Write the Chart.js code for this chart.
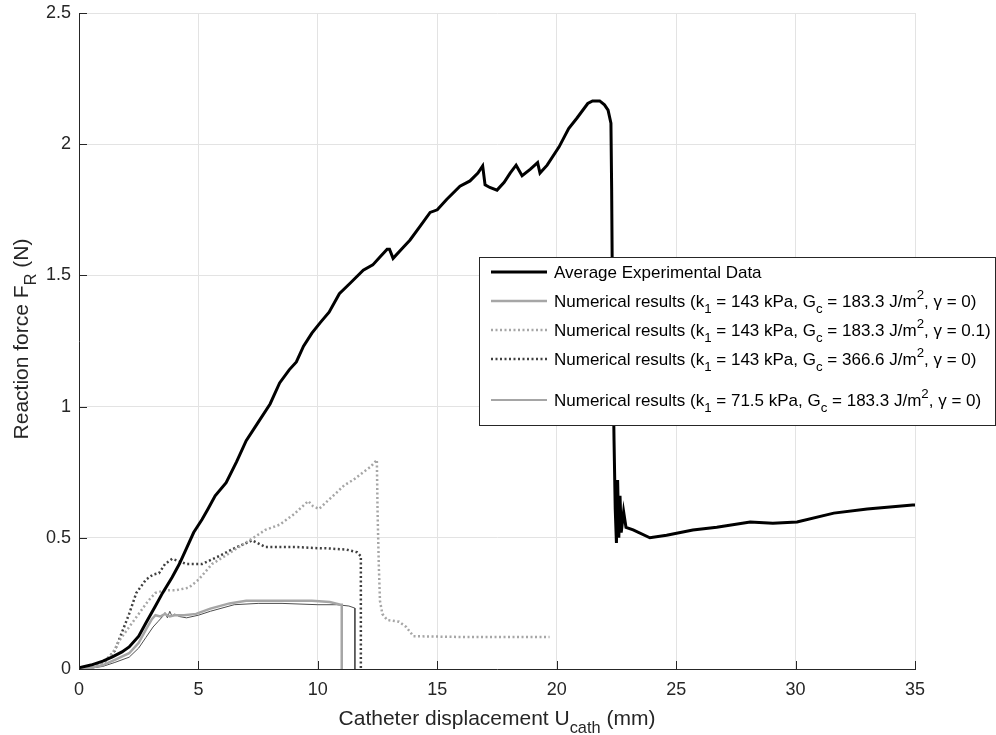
<!DOCTYPE html>
<html>
<head>
<meta charset="utf-8">
<script src="https://cdn.jsdelivr.net/npm/chart.js@4.4.0/dist/chart.umd.min.js"></script>
<style>
  body { margin: 0; background: #fff; }
  canvas { display: block; }
</style>
</head>
<body>
<canvas id="myChart" width="996" height="735"></canvas>
<script>
// Valores
const expX = [0, 0.5, 1.0, 1.4, 1.8, 2.1, 2.5, 2.8, 3.2, 3.5, 3.9, 4.2, 4.5, 4.8, 5.15, 5.4, 5.7, 6.16, 6.6, 7.0, 7.5, 8.0, 8.4, 8.8, 9.1, 9.4, 9.75, 10.1, 10.47, 10.9, 11.35, 11.9, 12.3, 12.6, 12.9, 13.0, 13.15, 13.5, 13.86, 14.3, 14.7, 15.0, 15.4, 15.95, 16.37, 16.7, 16.9, 17.0, 17.2, 17.5, 17.8, 18.05, 18.3, 18.55, 18.9, 19.2, 19.3, 19.6, 20.1, 20.5, 20.85, 21.3, 21.5, 21.8, 22.0, 22.15, 22.27, 22.3, 22.35, 22.4, 22.45, 22.5, 22.55, 22.6, 22.65, 22.7, 22.8, 22.9, 23.2, 23.9, 24.6, 25.7, 26.7, 28.1, 29.05, 30.06, 31.6, 33.0, 34.9, 35];
const expY = [0.005, 0.015, 0.03, 0.046, 0.065, 0.084, 0.125, 0.175, 0.24, 0.29, 0.35, 0.40, 0.46, 0.52, 0.57, 0.61, 0.66, 0.71, 0.79, 0.87, 0.94, 1.01, 1.09, 1.14, 1.17, 1.23, 1.28, 1.32, 1.36, 1.43, 1.47, 1.52, 1.54, 1.57, 1.60, 1.60, 1.565, 1.60, 1.635, 1.69, 1.74, 1.75, 1.79, 1.84, 1.86, 1.89, 1.917, 1.845, 1.835, 1.825, 1.855, 1.89, 1.92, 1.88, 1.905, 1.93, 1.89, 1.92, 1.99, 2.06, 2.10, 2.155, 2.165, 2.165, 2.15, 2.13, 2.08, 1.83, 1.2, 0.87, 0.61, 0.48, 0.72, 0.50, 0.66, 0.52, 0.60, 0.54, 0.53, 0.50, 0.51, 0.53, 0.54, 0.56, 0.555, 0.56, 0.594, 0.61, 0.625, 0.625];

const numAX = [0, 0.5, 1.0, 1.5, 2.1, 2.5, 2.8, 3.05, 3.2, 3.4, 3.6, 3.8, 4.0, 4.4, 4.9, 5.5, 6.3, 7.0, 7.5, 8.5, 9.75, 10.5, 10.95, 11.0, 11.0];
const numAY = [0, 0.005, 0.015, 0.035, 0.06, 0.10, 0.15, 0.19, 0.205, 0.20, 0.21, 0.20, 0.205, 0.205, 0.21, 0.23, 0.25, 0.26, 0.26, 0.26, 0.26, 0.255, 0.245, 0.245, 0];

const numBX = [0, 0.5, 1.0, 1.4, 1.7, 2.1, 2.5, 2.9, 3.2, 3.6, 4.05, 4.6, 5.0, 5.57, 6.1, 6.7, 7.3, 7.8, 8.4, 9.0, 9.6, 9.8, 10.05, 10.4, 10.76, 11.1, 11.47, 11.9, 12.2, 12.47, 12.5, 12.55, 12.6, 12.7, 12.9, 13.4, 13.7, 14.0, 16.0, 19.7];
const numBY = [0, 0.005, 0.02, 0.06, 0.11, 0.16, 0.21, 0.26, 0.29, 0.30, 0.30, 0.31, 0.34, 0.40, 0.43, 0.465, 0.50, 0.53, 0.55, 0.59, 0.64, 0.62, 0.61, 0.64, 0.67, 0.70, 0.72, 0.75, 0.77, 0.797, 0.60, 0.40, 0.26, 0.21, 0.187, 0.18, 0.16, 0.125, 0.122, 0.122];

const numCX = [0, 0.5, 1.0, 1.5, 1.8, 2.1, 2.4, 2.8, 3.1, 3.35, 3.6, 3.9, 4.2, 4.5, 5.15, 5.86, 6.5, 7.25, 7.8, 8.4, 9.1, 10.1, 10.35, 11.2, 11.64, 11.8, 11.8];
const numCY = [0, 0.005, 0.02, 0.07, 0.14, 0.21, 0.29, 0.34, 0.36, 0.365, 0.40, 0.42, 0.41, 0.40, 0.40, 0.43, 0.46, 0.49, 0.465, 0.465, 0.465, 0.46, 0.46, 0.455, 0.445, 0.43, 0];

const numDX = [0, 0.5, 1.0, 1.5, 2.1, 2.5, 2.8, 3.1, 3.3, 3.5, 3.6, 3.7, 3.8, 3.9, 4.0, 4.2, 4.5, 5.0, 5.5, 6.5, 7.5, 8.5, 10.0, 10.8, 11.3, 11.55, 11.55];
const numDY = [0, 0.003, 0.01, 0.025, 0.045, 0.08, 0.12, 0.16, 0.18, 0.20, 0.215, 0.195, 0.22, 0.20, 0.21, 0.20, 0.195, 0.205, 0.22, 0.245, 0.25, 0.25, 0.245, 0.245, 0.24, 0.232, 0];

const xTicks = [0, 5, 10, 15, 20, 25, 30, 35];
const yTicks = [0, 0.5, 1, 1.5, 2, 2.5];
const yTickLabels = ['0', '0.5', '1', '1.5', '2', '2.5'];

// Textos con subindices / superindices
const xTitle = [['Catheter displacement U'], ['cath', 'sub'], [' (mm)']];
const yTitle = [['Reaction force F'], ['R', 'sub'], [' (N)']];
const legendTexts = [
    [['Average Experimental Data']],
    [['Numerical results (k'], ['1', 'sub'], [' = 143 kPa, G'], ['c', 'sub'], [' = 183.3 J/m'], ['2', 'sup'], [', \u03B3 = 0)']],
    [['Numerical results (k'], ['1', 'sub'], [' = 143 kPa, G'], ['c', 'sub'], [' = 183.3 J/m'], ['2', 'sup'], [', \u03B3 = 0.1)']],
    [['Numerical results (k'], ['1', 'sub'], [' = 143 kPa, G'], ['c', 'sub'], [' = 366.6 J/m'], ['2', 'sup'], [', \u03B3 = 0)']],
    [['Numerical results (k'], ['1', 'sub'], [' = 71.5 kPa, G'], ['c', 'sub'], [' = 183.3 J/m'], ['2', 'sup'], [', \u03B3 = 0)']]
];

const FONT = '"Liberation Sans", Arial, sans-serif';
const AXIS_COLOR = '#262626';

function pts(xs, ys) {
    return xs.map((x, i) => ({x: x, y: ys[i]}));
}

function richWidth(ctx, parts, size) {
    let w = 0;
    for (const [t, m] of parts) {
        ctx.font = (m ? size * 0.78 : size) + 'px ' + FONT;
        w += ctx.measureText(t).width;
    }
    return w;
}

function drawRich(ctx, parts, x, y, size) {
    let cx = x;
    for (const [t, m] of parts) {
        ctx.font = (m ? size * 0.78 : size) + 'px ' + FONT;
        let dy = 0;
        if (m === 'sub') dy = size * 0.38;
        if (m === 'sup') dy = -size * 0.45;
        ctx.fillText(t, cx, y + dy);
        cx += ctx.measureText(t).width;
    }
}

const datasets = [
    {data: pts(expX, expY), borderColor: '#000000', borderWidth: 3},
    {data: pts(numAX, numAY), borderColor: '#a6a6a6', borderWidth: 2.5},
    {data: pts(numBX, numBY), borderColor: '#a6a6a6', borderWidth: 2.5, borderDash: [2, 2.5]},
    {data: pts(numCX, numCY), borderColor: '#404040', borderWidth: 2.5, borderDash: [2, 2.5]},
    {data: pts(numDX, numDY), borderColor: '#4d4d4d', borderWidth: 1}
];

const decor = {
    id: 'decor',
    afterDraw(chart) {
        const ctx = chart.ctx;
        const a = chart.chartArea;
        const xs = chart.scales.x;
        const ys = chart.scales.y;
        ctx.save();

        // ticks hacia dentro
        ctx.strokeStyle = AXIS_COLOR;
        ctx.lineWidth = 1;
        ctx.beginPath();
        xTicks.forEach(v => {
            const px = Math.round(xs.getPixelForValue(v)) + 0.5;
            ctx.moveTo(px, a.bottom);
            ctx.lineTo(px, a.bottom - 8);
        });
        yTicks.forEach(v => {
            const py = Math.round(ys.getPixelForValue(v)) + 0.5;
            ctx.moveTo(a.left, py);
            ctx.lineTo(a.left + 8, py);
        });
        ctx.stroke();

        // titulos de ejes
        ctx.fillStyle = AXIS_COLOR;
        ctx.textBaseline = 'alphabetic';
        ctx.textAlign = 'left';
        const tw = richWidth(ctx, xTitle, 21);
        drawRich(ctx, xTitle, (a.left + a.right) / 2 - tw / 2, 725, 21);

        const th = richWidth(ctx, yTitle, 21);
        ctx.save();
        ctx.translate(28, 339 + th / 2);
        ctx.rotate(-Math.PI / 2);
        drawRich(ctx, yTitle, 0, 0, 21);
        ctx.restore();

        // leyenda
        const box = {left: 479.5, top: 257.5, right: 995.5, bottom: 425.5};
        ctx.fillStyle = '#ffffff';
        ctx.fillRect(box.left, box.top, box.right - box.left, box.bottom - box.top);
        ctx.strokeStyle = AXIS_COLOR;
        ctx.lineWidth = 1;
        ctx.strokeRect(box.left, box.top, box.right - box.left, box.bottom - box.top);

        const rowY = [272, 301, 330, 359, 400];
        datasets.forEach((ds, i) => {
            const y = rowY[i];
            ctx.beginPath();
            ctx.strokeStyle = ds.borderColor;
            ctx.lineWidth = ds.borderWidth;
            ctx.setLineDash(ds.borderDash || []);
            ctx.moveTo(491, y);
            ctx.lineTo(547, y);
            ctx.stroke();
            ctx.setLineDash([]);
            ctx.fillStyle = '#000000';
            drawRich(ctx, legendTexts[i], 554, y + 6, 17);
        });

        ctx.restore();
    }
};

new Chart(document.getElementById('myChart'), {
    type: 'scatter',
    data: {
        datasets: datasets.map(d => Object.assign({
            showLine: true,
            pointRadius: 0,
            fill: false,
            tension: 0
        }, d))
    },
    options: {
        responsive: false,
        devicePixelRatio: 1,
        animation: false,
        layout: {padding: {left: 0, top: 13, right: 81, bottom: 0}},
        plugins: {
            legend: {display: false},
            tooltip: {enabled: false}
        },
        scales: {
            x: {
                type: 'linear',
                min: 0,
                max: 35,
                afterFit: s => { s.height = 66; s.paddingLeft = 0; s.paddingRight = 0; },
                afterBuildTicks: s => { s.ticks = xTicks.map(v => ({value: v})); },
                ticks: {
                    color: AXIS_COLOR,
                    font: {family: FONT, size: 18},
                    padding: 10,
                    maxRotation: 0
                },
                grid: {color: '#e3e3e3', drawTicks: false},
                border: {color: AXIS_COLOR, width: 1}
            },
            y: {
                type: 'linear',
                min: 0,
                max: 2.5,
                afterFit: s => { s.width = 79; s.paddingTop = 0; s.paddingBottom = 0; },
                afterBuildTicks: s => { s.ticks = yTicks.map(v => ({value: v})); },
                ticks: {
                    color: AXIS_COLOR,
                    font: {family: FONT, size: 18},
                    padding: 8,
                    callback: v => yTickLabels[yTicks.indexOf(v)]
                },
                grid: {color: '#e3e3e3', drawTicks: false},
                border: {color: AXIS_COLOR, width: 1}
            }
        }
    },
    plugins: [decor]
});
</script>
</body>
</html>
